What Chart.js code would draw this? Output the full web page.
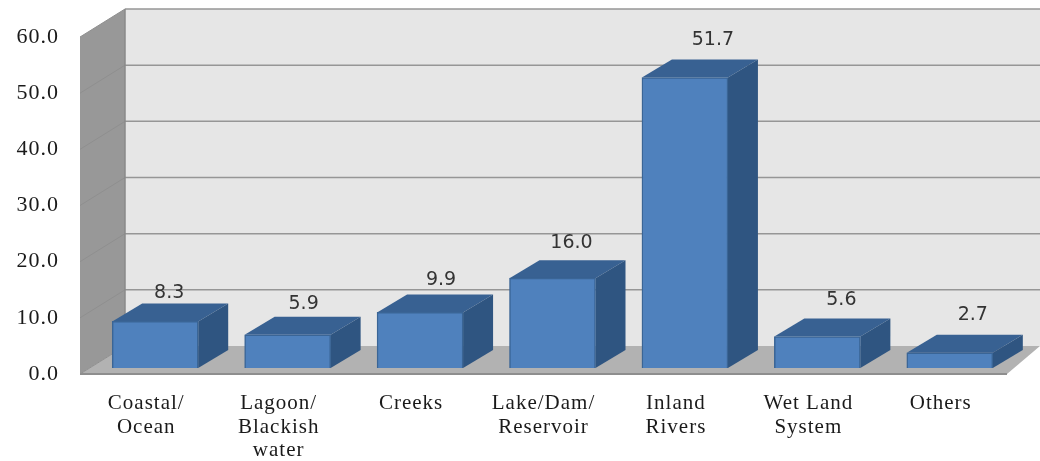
<!DOCTYPE html>
<html lang="en">
<head>
    <meta charset="UTF-8">
    <title>Water bodies</title>
    <script src="https://cdn.jsdelivr.net/npm/chart.js"></script>
    <style>
        html, body { margin: 0; background: #fff; }
        #chartBox { width: 1040px; height: 461px; }
    </style>
</head>
<body>
    <div id="chartBox"><canvas id="waterChart" width="1040" height="461"></canvas></div>

    <script>
        const categories = [
            ["Coastal/", "Ocean"],
            ["Lagoon/", "Blackish", "water"],
            ["Creeks"],
            ["Lake/Dam/", "Reservoir"],
            ["Inland", "Rivers"],
            ["Wet Land", "System"],
            ["Others"]
        ];
        const values = [8.3, 5.9, 9.9, 16.0, 51.7, 5.6, 2.7];
        const yTicks = [0, 10, 20, 30, 40, 50, 60];

        // fake 3D look: how far the back wall and the bar sides go "into" the picture
        const wallDx = 45, wallDy = 28;
        const barShiftX = 9, barShiftY = -6;
        const barDx = 30, barDy = 18;
        // the value labels sit a bit differently above each bar
        const labelNudge = [[14, -28], [16, -31], [21, -32], [19, -35], [28, -38], [24, -36], [23, -38]];

        function poly(ctx, pts, fill) {
            ctx.beginPath();
            pts.forEach((p, i) => i ? ctx.lineTo(p[0], p[1]) : ctx.moveTo(p[0], p[1]));
            ctx.closePath();
            ctx.fillStyle = fill;
            ctx.fill();
        }

        const box3d = {
            id: "box3d",
            beforeDraw(chart) {
                const { ctx, chartArea: a, scales } = chart;
                const w = chart.width;
                ctx.letterSpacing = "1px";
                const top = a.top, bot = a.bottom, left = a.left;

                ctx.save();
                // back wall, left wall, floor
                poly(ctx, [[left + wallDx, top - wallDy], [w, top - wallDy], [w, bot - wallDy], [left + wallDx, bot - wallDy]], "#e6e6e6");
                poly(ctx, [[left, top], [left + wallDx, top - wallDy], [left + wallDx, bot - wallDy], [left, bot]], "#989898");
                poly(ctx, [[left, bot], [a.right, bot], [w, bot - wallDy], [left + wallDx, bot - wallDy]], "#b2b2b2");

                // grid lines go along the left wall and then the back wall
                yTicks.forEach(v => {
                    const y = scales.y.getPixelForValue(v);
                    ctx.beginPath();
                    ctx.moveTo(left, y);
                    ctx.lineTo(left + wallDx, y - wallDy);
                    ctx.strokeStyle = "#8f8f8f";
                    ctx.lineWidth = 1;
                    ctx.stroke();
                    if (v > 0) {
                        ctx.beginPath();
                        ctx.moveTo(left + wallDx, y - wallDy);
                        ctx.lineTo(w, y - wallDy);
                        ctx.strokeStyle = "#969696";
                        ctx.lineWidth = 1.5;
                        ctx.stroke();
                    }
                });
                ctx.beginPath();
                ctx.moveTo(left + wallDx, top - wallDy);
                ctx.lineTo(left + wallDx, bot - wallDy);
                ctx.strokeStyle = "#8a8a8a";
                ctx.lineWidth = 1.5;
                ctx.stroke();

                // front edge of the floor
                ctx.beginPath();
                ctx.moveTo(left, bot);
                ctx.lineTo(a.right, bot);
                ctx.strokeStyle = "#8e8e8e";
                ctx.lineWidth = 2;
                ctx.stroke();
                ctx.restore();
            },
            beforeDatasetsDraw(chart) {
                const { ctx } = chart;
                ctx.save();
                ctx.translate(barShiftX, barShiftY);
                chart.getDatasetMeta(0).data.forEach(bar => {
                    const l = bar.x - bar.width / 2, r = bar.x + bar.width / 2;
                    const t = bar.y, b = bar.base;
                    poly(ctx, [[l, t], [r, t], [r + barDx, t - barDy], [l + barDx, t - barDy]], "#386192");
                    poly(ctx, [[r, t], [r + barDx, t - barDy], [r + barDx, b - barDy], [r, b]], "#2f5581");
                });
            },
            afterDatasetsDraw(chart) {
                const { ctx } = chart;
                ctx.restore();
                ctx.save();
                ctx.font = "19px 'DejaVu Sans'";
                ctx.letterSpacing = "0px";
                ctx.fillStyle = "#333333";
                ctx.textAlign = "center";
                ctx.textBaseline = "middle";
                chart.getDatasetMeta(0).data.forEach((bar, i) => {
                    ctx.fillText(values[i].toFixed(1),
                        bar.x + barShiftX + labelNudge[i][0],
                        bar.y + barShiftY + labelNudge[i][1]);
                });
                ctx.restore();
            }
        };

        new Chart(document.getElementById("waterChart").getContext("2d"), {
            type: "bar",
            data: {
                labels: categories,
                datasets: [{
                    data: values,
                    backgroundColor: "#4f81bd",
                    borderColor: "#3a6596",
                    borderWidth: 1.5,
                    barThickness: 86,
                    clip: false
                }]
            },
            options: {
                responsive: false,
                animation: false,
                layout: { padding: { top: 37, right: 33, left: 0, bottom: 0 } },
                plugins: { legend: { display: false }, tooltip: { enabled: false } },
                scales: {
                    x: {
                        afterFit: s => { s.height = 87; },
                        grid: { display: false },
                        border: { display: false },
                        ticks: {
                            autoSkip: false,
                            maxRotation: 0,
                            padding: 10,
                            color: "#1a1a1a",
                            font: { family: "'Liberation Serif'", size: 21, lineHeight: 1.12 }
                        }
                    },
                    y: {
                        min: 0,
                        max: 60,
                        afterFit: s => { s.width = 80; },
                        afterBuildTicks: s => { s.ticks = yTicks.map(v => ({ value: v })); },
                        grid: { display: false },
                        border: { display: false },
                        ticks: {
                            padding: 13,
                            color: "#1a1a1a",
                            font: { family: "'Liberation Serif'", size: 22 },
                            callback: v => v.toFixed(1)
                        }
                    }
                }
            },
            plugins: [box3d]
        });
    </script>
</body>
</html>
